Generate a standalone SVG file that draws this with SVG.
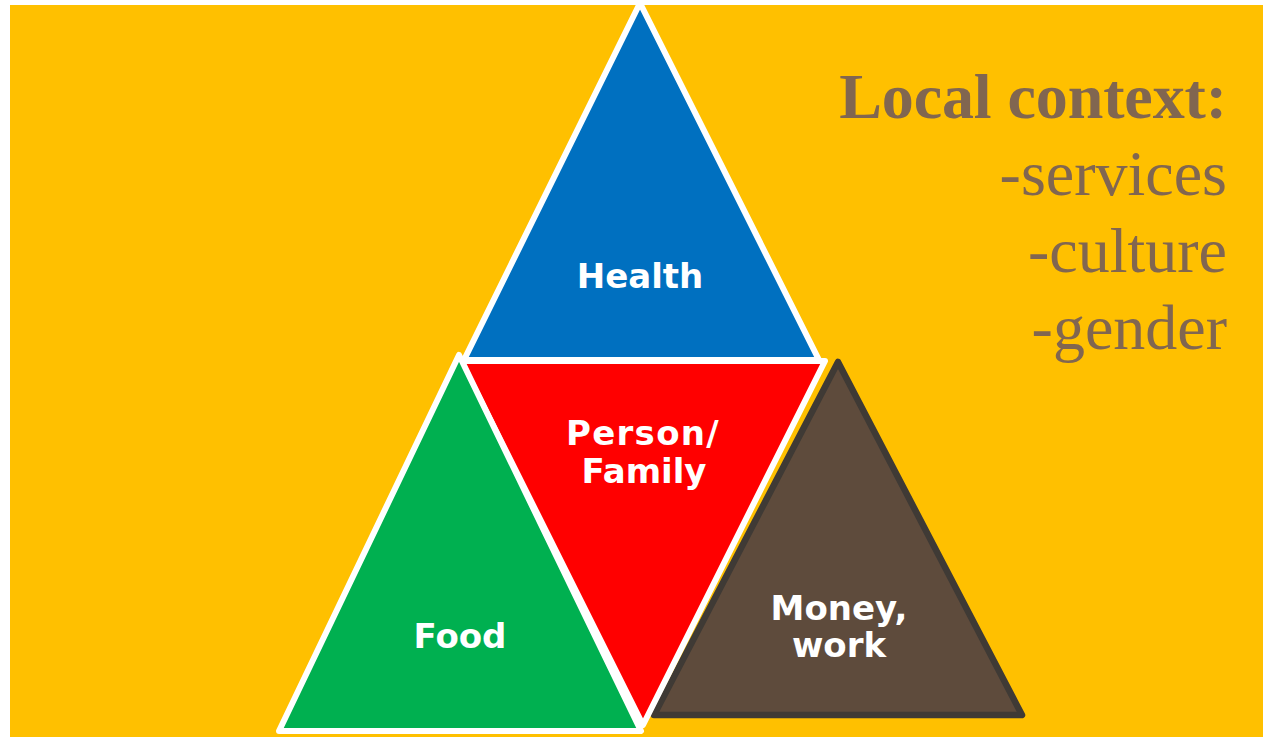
<svg xmlns="http://www.w3.org/2000/svg" width="1263" height="737" viewBox="0 0 1263 737">
<style>
.tri{stroke:#fff;stroke-width:6;stroke-linejoin:round}
.lbl{font-family:"DejaVu Sans",Verdana,sans-serif;font-weight:700;font-size:34px;fill:#fff;text-anchor:middle}
.ctx{font-family:"Liberation Serif","Times New Roman",serif;font-size:64px;fill:#816650;text-anchor:end}
</style>
<rect x="0" y="0" width="1263" height="737" fill="#fff"/>
<rect x="10" y="5" width="1253" height="732" fill="#FFC000"/>
<g id="node-health"><polygon class="tri" points="640,3 819,360 464,360" fill="#0070C0"/><text class="lbl" x="640" y="288">Health</text></g>
<g id="node-money"><polygon points="838,362 1022,715 654,715" fill="#5E4B3C" stroke="#3F3A35" stroke-width="6.5" stroke-linejoin="round"/><text class="lbl" x="839" y="620">Money,</text><text class="lbl" x="839" y="657">work</text></g>
<g id="node-person"><polygon class="tri" points="461,361 825,361 643,725" fill="#FF0000"/><text class="lbl" x="643" y="445" letter-spacing="1.3">Person/</text><text class="lbl" x="644" y="483">Family</text></g>
<g id="node-food"><polygon class="tri" points="459,355 641,731 279,731" fill="#00B050"/><text class="lbl" x="460" y="648">Food</text></g>
<g id="context">
<text class="ctx" x="1227" y="118" font-weight="700" letter-spacing="-0.1">Local context:</text>
<text class="ctx" x="1227" y="195">-services</text>
<text class="ctx" x="1227" y="272">-culture</text>
<text class="ctx" x="1227" y="349">-gender</text>
</g>
</svg>
